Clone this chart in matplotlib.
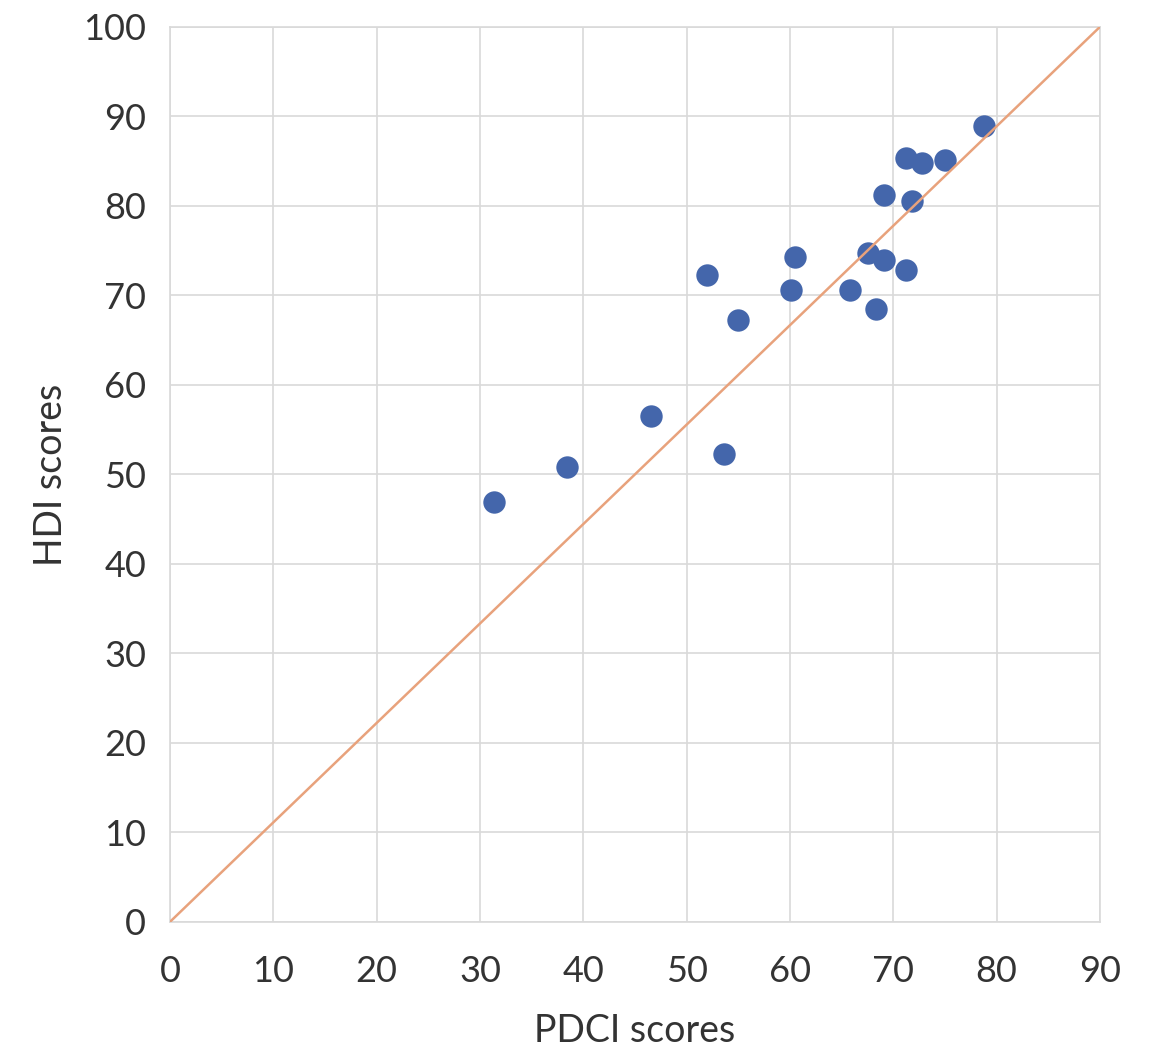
import numpy as np
import matplotlib.pyplot as plt

pdci = [31.4, 38.4, 46.6, 53.6, 52.0, 55.0, 60.1, 60.5, 65.8, 67.6,
        69.1, 68.3, 71.2, 69.1, 71.8, 71.2, 72.8, 75.0, 78.8]
hdi = [46.9, 50.8, 56.5, 52.3, 72.3, 67.3, 70.6, 74.3, 70.6, 74.7,
       74.0, 68.5, 72.8, 81.2, 80.6, 85.4, 84.8, 85.1, 88.9]

plt.rcParams['font.family'] = ['Lato', 'DejaVu Sans']

fig = plt.figure(figsize=(11.56, 10.5), dpi=100)
ax = fig.add_axes([0.147, 0.122, 0.8045, 0.8524])

ax.scatter(pdci, hdi, s=260, color='#4466ab', zorder=3, linewidths=0)
ax.plot([0, 90], [0, 100], color='#e8a27c', lw=1.8, zorder=4)

ax.set_xlim(0, 90)
ax.set_ylim(0, 100)
ax.set_xticks(np.arange(0, 91, 10))
ax.set_yticks(np.arange(0, 101, 10))
ax.grid(True, color='#d9d9d9', lw=1.2)
ax.set_axisbelow(True)
for s in ax.spines.values():
    s.set_color('#d9d9d9')
    s.set_linewidth(1.2)
ax.tick_params(length=0, labelsize=26, colors='#333333')
ax.tick_params(axis='x', pad=24)
ax.tick_params(axis='y', pad=17)

ax.set_xlabel('PDCI scores', fontsize=27, color='#333333', labelpad=18)
ax.set_ylabel('HDI scores', fontsize=27, color='#333333', labelpad=10)

fig.savefig('out.png', dpi=100)
